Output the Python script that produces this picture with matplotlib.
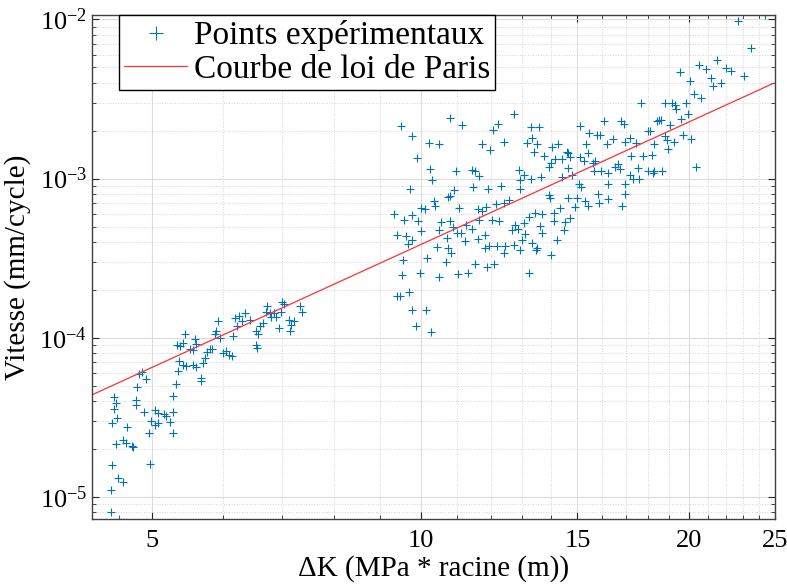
import numpy as np
import matplotlib
matplotlib.use("Agg")
import matplotlib.pyplot as plt
from matplotlib.ticker import NullFormatter, LogLocator

plt.rcParams['font.family'] = 'serif'
plt.rcParams['font.serif'] = ['Liberation Serif', 'DejaVu Serif']
plt.rcParams['mathtext.fontset'] = 'stix'

# low Delta K cluster
dk_low = [4.49, 4.59, 4.50, 4.58, 4.63, 4.51, 4.97, 4.55, 4.64, 4.67, 4.74, 4.76,
          4.69, 4.51, 4.56, 4.53, 4.55, 4.53, 4.79, 4.79, 4.81, 4.92, 4.83, 4.87,
          4.90, 4.96, 4.99, 5.03, 5.07, 5.07, 5.03, 5.15, 5.18, 5.23, 5.28, 5.27,
          5.28, 5.31, 5.34, 5.36, 5.33, 5.37, 5.44, 5.41, 5.51, 5.42, 5.45, 5.55,
          5.60, 5.59, 5.60, 5.55, 5.67, 5.67, 5.70, 5.73, 5.76, 5.81, 5.84, 5.88,
          5.89, 5.92, 5.95, 6.00, 6.05, 6.10, 6.14, 6.16, 6.19, 6.23, 6.26, 6.31,
          6.36, 6.43, 6.53, 6.54, 6.56, 6.57, 6.61, 6.65, 6.72, 6.71, 6.77, 6.80,
          6.84, 6.88, 6.93, 6.99, 7.03, 6.97, 7.12, 7.15, 7.14, 7.21, 7.32, 7.36]
v_low = [8.0e-6, 7.25e-6, 1.11e-5, 1.32e-5, 1.24e-5, 1.59e-5, 1.60e-5, 2.14e-5,
         2.28e-5, 2.19e-5, 2.09e-5, 2.05e-5, 2.77e-5, 2.91e-5, 3.15e-5, 3.56e-5,
         3.91e-5, 4.27e-5, 3.79e-5, 4.07e-5, 4.94e-5, 5.52e-5, 5.91e-5, 6.14e-5,
         3.43e-5, 2.52e-5, 2.98e-5, 3.52e-5, 3.39e-5, 2.91e-5, 2.84e-5, 3.32e-5,
         3.24e-5, 2.94e-5, 3.40e-5, 2.54e-5, 4.31e-5, 5.11e-5, 6.20e-5, 7.16e-5,
         9.04e-5, 8.82e-5, 1.05e-4, 9.27e-5, 8.55e-5, 6.73e-5, 6.66e-5, 6.75e-5,
         6.59e-5, 9.81e-5, 9.12e-5, 8.40e-5, 5.58e-5, 5.36e-5, 6.93e-5, 7.52e-5,
         8.19e-5, 8.55e-5, 8.47e-5, 1.05e-4, 1.10e-4, 1.27e-4, 1.00e-4, 8.08e-5,
         8.28e-5, 7.80e-5, 7.70e-5, 1.02e-4, 1.33e-4, 1.19e-4, 1.37e-4, 1.27e-4,
         1.43e-4, 1.30e-4, 1.10e-4, 9.04e-5, 8.67e-5, 1.05e-4, 1.18e-4, 1.24e-4,
         1.59e-4, 1.46e-4, 1.43e-4, 1.36e-4, 1.43e-4, 1.36e-4, 1.16e-4, 1.69e-4,
         1.64e-4, 1.46e-4, 1.30e-4, 1.21e-4, 1.10e-4, 1.27e-4, 1.59e-4, 1.46e-4]

# high Delta K cluster
dk_high = [9.50, 9.78, 10.80, 11.12, 10.22, 10.49, 9.90, 10.24, 10.31, 9.73, 10.95,
           11.43, 11.52, 11.62, 10.90, 10.79, 10.74, 10.35, 10.38, 11.46, 11.91,
           12.30, 12.07, 12.21, 12.40, 11.72, 11.98, 12.42, 10.00, 10.12, 9.79, 9.34,
           11.04, 11.60, 11.83, 12.14, 11.73,
           9.42, 9.63, 9.67, 9.79, 9.56, 9.52, 9.98, 10.02, 9.94, 9.58, 10.53, 10.49,
           10.78, 10.87, 10.98, 11.09, 10.71, 10.44, 10.74, 10.83, 10.18, 10.67,
           11.25, 11.41, 11.21, 11.60, 11.80, 11.80, 11.93, 12.19, 12.43, 12.40,
           11.52, 11.88, 12.09, 11.02, 11.31, 10.49, 9.71, 9.42, 9.48, 9.79, 10.14,
           9.88, 10.28, 11.62, 12.04, 12.24,
           12.72, 13.31, 13.57, 13.16, 13.51, 13.39, 13.34, 14.04, 14.28, 13.74,
           14.16, 14.40, 14.59, 14.65, 14.71, 13.92, 14.62, 14.01, 15.11, 15.46,
           15.76, 15.89, 15.32, 15.40, 15.11, 15.27, 15.62, 15.69, 15.66, 15.93,
           16.24, 16.17, 16.43, 16.07, 16.78, 16.92, 16.97, 17.17, 17.46, 17.24,
           16.53, 16.64, 16.74, 17.17, 17.31, 12.88, 12.94, 13.05, 12.94, 13.31,
           13.66, 14.40, 14.78, 15.04, 15.14, 14.98, 14.65, 13.95, 13.98, 15.30,
           15.80, 16.21, 16.95, 16.97, 16.21, 16.81, 15.86, 15.40, 14.92, 14.34,
           14.10, 13.68, 13.45, 13.22, 14.71, 12.56,
           12.67, 12.78, 12.86, 13.05, 13.11, 12.99, 12.72, 12.94, 13.33, 13.51,
           13.47, 13.63, 13.68, 14.10, 14.53, 14.47, 14.22, 14.01, 13.25,
           24.38, 22.72, 23.49, 21.50, 20.54, 20.92, 22.02, 22.28, 19.54, 23.09,
           21.16, 20.07, 21.74, 21.28, 20.26, 20.63, 17.69, 18.82, 19.17, 19.29,
           19.84, 19.37, 19.96, 19.62, 18.51, 18.60, 18.43, 19.07, 17.98, 18.08,
           18.82, 19.70, 20.13,
           18.27, 18.88, 19.26, 18.93, 17.77, 18.18, 17.55, 17.98, 18.28, 18.66,
           18.23, 20.40, 17.58]
v_high = [2.13e-3, 1.86e-3, 2.39e-3, 2.16e-3, 1.68e-3, 1.64e-3, 1.35e-3, 1.15e-3,
          9.86e-4, 8.62e-4, 1.11e-3, 1.14e-3, 1.12e-3, 1.045e-3, 8.45e-4, 7.74e-4,
          7.63e-4, 7.20e-4, 6.76e-4, 8.83e-4, 8.61e-4, 8.95e-4, 2.03e-3, 2.21e-3,
          1.70e-3, 1.64e-3, 1.52e-3, 7.03e-4, 6.54e-4, 6.45e-4, 5.95e-4, 6.02e-4,
          6.54e-4, 6.45e-4, 6.64e-4, 6.88e-4, 6.22e-4,
          4.40e-4, 4.34e-4, 3.90e-4, 4.13e-4, 3.09e-4, 2.49e-4, 2.56e-4, 4.71e-4,
          5.39e-4, 5.52e-4, 5.31e-4, 4.78e-4, 5.39e-4, 4.95e-4, 4.53e-4, 4.57e-4,
          4.24e-4, 3.72e-4, 3.66e-4, 3.40e-4, 3.19e-4, 2.98e-4, 5.14e-4, 4.83e-4,
          4.03e-4, 4.18e-4, 4.40e-4, 3.67e-4, 3.77e-4, 3.77e-4, 3.80e-4, 3.41e-4,
          2.90e-4, 2.80e-4, 2.92e-4, 2.52e-4, 2.56e-4, 2.42e-4, 1.95e-4, 1.82e-4,
          1.84e-4, 1.50e-4, 1.50e-4, 1.19e-4, 1.08e-4, 5.47e-4, 5.47e-4, 5.39e-4,
          2.56e-3, 2.10e-3, 2.10e-3, 1.67e-3, 1.66e-3, 1.48e-3, 1.79e-3, 1.58e-3,
          1.66e-3, 1.39e-3, 1.32e-3, 1.32e-3, 1.48e-3, 1.45e-3, 1.36e-3, 1.19e-3,
          1.16e-3, 1.25e-3, 2.15e-3, 1.94e-3, 1.89e-3, 1.87e-3, 1.64e-3, 1.45e-3,
          1.36e-3, 1.30e-3, 1.25e-3, 1.29e-3, 1.11e-3, 1.11e-3, 1.09e-3, 1.66e-3,
          1.78e-3, 2.31e-3, 2.31e-3, 2.21e-3, 1.71e-3, 1.81e-3, 1.68e-3, 1.38e-3,
          1.19e-3, 1.23e-3, 1.15e-3, 1.06e-3, 1.00e-3, 1.14e-3, 9.86e-4, 1.05e-3,
          8.66e-4, 9.96e-4, 1.03e-3, 1.03e-3, 1.06e-3, 9.30e-4, 8.83e-4, 7.60e-4,
          7.60e-4, 7.88e-4, 7.60e-4, 7.20e-4, 8.00e-4, 9.20e-4, 9.20e-4, 8.00e-4,
          7.40e-4, 6.76e-4, 7.03e-4, 6.76e-4, 6.60e-4, 6.54e-4, 6.06e-4, 6.00e-4,
          6.06e-4, 5.75e-4, 5.69e-4, 7.38e-4,
          4.78e-4, 5.10e-4, 4.83e-4, 5.26e-4, 4.46e-4, 4.13e-4, 3.83e-4, 3.54e-4,
          3.93e-4, 3.66e-4, 3.54e-4, 5.04e-4, 4.57e-4, 5.39e-4, 5.31e-4, 4.78e-4,
          4.09e-4, 3.32e-4, 2.56e-4,
          1.07e-2, 9.75e-3, 6.61e-3, 5.60e-3, 5.20e-3, 4.88e-3, 4.95e-3, 4.77e-3,
          4.68e-3, 4.40e-3, 4.30e-3, 4.09e-3, 3.99e-3, 3.80e-3, 3.40e-3, 3.21e-3,
          3.00e-3, 3.00e-3, 3.00e-3, 2.90e-3, 3.00e-3, 2.72e-3, 2.53e-3, 2.37e-3,
          2.35e-3, 2.35e-3, 2.30e-3, 2.16e-3, 1.98e-3, 1.98e-3, 1.86e-3, 1.87e-3,
          1.78e-3,
          1.66e-3, 1.76e-3, 1.69e-3, 1.53e-3, 1.38e-3, 1.40e-3, 1.17e-3, 1.12e-3,
          1.12e-3, 1.12e-3, 1.09e-3, 1.19e-3, 9.96e-4]

# Paris law  da/dN = C * dK^m
paris_C = 1.06e-6
paris_m = 2.56
dk_range = [4.28, 24.9]

xticks = [5, 10, 15, 20, 25]
xminor = [6, 7, 8, 9, 11, 12, 13, 14, 16, 17, 18, 19, 21, 22, 23, 24]

dk = np.array(dk_low + dk_high)
v = np.array(v_low + v_high)
dk_fit = np.array(dk_range)
v_fit = paris_C * dk_fit ** paris_m

fig = plt.figure(figsize=(7.87, 5.85), dpi=100)
ax = fig.add_axes([0.117, 0.113, 0.868, 0.861])

ax.plot(dk, v, '+', color='#0072BD', markersize=6, markeredgewidth=0.8,
        label='Points expérimentaux')
ax.plot(dk_fit, v_fit, '-', color='#ff3030', linewidth=0.9,
        label='Courbe de loi de Paris')

ax.set_xscale('log')
ax.set_yscale('log')
ax.set_xlim(dk_range)
ax.set_ylim(7.28e-6, 1.064e-2)

ax.set_xticks(xticks)
ax.set_xticklabels([str(t) for t in xticks])
ax.set_xticks(xminor, minor=True)
ax.xaxis.set_minor_formatter(NullFormatter())
ax.yaxis.set_major_locator(LogLocator(base=10))
ax.yaxis.set_minor_locator(LogLocator(base=10, subs=np.arange(2, 10)))
ax.yaxis.set_minor_formatter(NullFormatter())

ax.grid(True, which='major', color='#dcdcdc', linewidth=0.8, linestyle='-')
ax.grid(True, which='minor', color='#d4d4d4', linewidth=0.7, linestyle=':')
ax.set_axisbelow(True)

ax.tick_params(which='both', direction='in', top=True, right=True,
               labelsize=19, colors='#262626', labelcolor='black')
ax.tick_params(which='major', length=5, width=0.8)
ax.tick_params(which='minor', length=3, width=0.6)
ax.tick_params(axis='x', which='major', pad=8)
for s in ax.spines.values():
    s.set_color('#404040')
    s.set_linewidth(1.0)

ax.set_xlabel('ΔK (MPa * racine (m))', fontsize=21, labelpad=2)
ax.set_ylabel('Vitesse (mm/cycle)', fontsize=21, labelpad=6)

leg = ax.legend(loc='upper left', bbox_to_anchor=(0.0395, 1.0), borderaxespad=0,
                fontsize=24, numpoints=1, markerscale=1.6, handlelength=1.9,
                handletextpad=0.2, borderpad=0.15, labelspacing=0.1,
                fancybox=False, framealpha=1, edgecolor='black')
leg.get_frame().set_linewidth(1.0)

fig.savefig('out.png', dpi=100)
